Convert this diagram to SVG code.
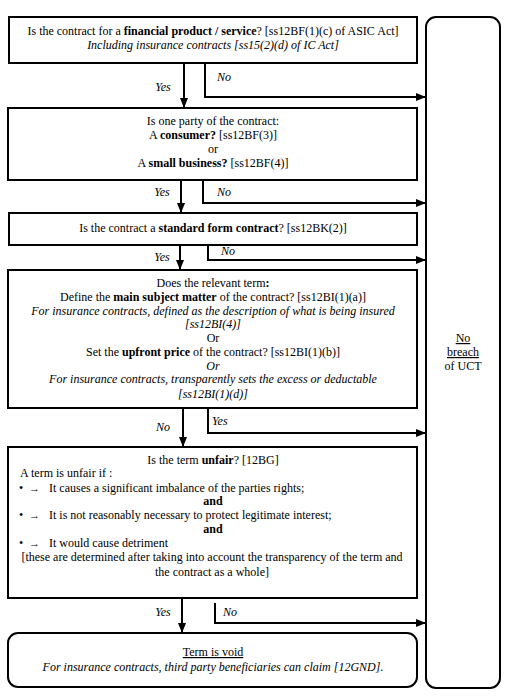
<svg xmlns="http://www.w3.org/2000/svg" width="509" height="698" viewBox="0 0 509 698">
<style>
text{font-family:"Liberation Serif","Times New Roman",serif;font-size:12px;fill:#000}
.c{text-anchor:middle}
.i{font-style:italic}
.b{font-weight:bold}
.box{fill:#fff;stroke:#000;stroke-width:2}
.ln{fill:none;stroke:#000;stroke-width:2}
.u{text-decoration:underline}
.ar{font-size:11px;font-weight:bold}
</style>
<defs>
<marker id="ah" markerWidth="10" markerHeight="8" refX="9" refY="4" orient="auto" markerUnits="userSpaceOnUse">
<path d="M0,0 L10,4 L0,8 Z" fill="#000"/>
</marker>
</defs>
<rect width="509" height="698" fill="#fff"/>
<g id="connectors">
<line class="ln" x1="184" y1="63" x2="184" y2="107" marker-end="url(#ah)"/>
<polyline class="ln" points="205,63 205,97 425,97" marker-end="url(#ah)"/>
<text x="163" y="91" class="c i">Yes</text>
<text x="217" y="81" class="i">No</text>
<line class="ln" x1="181" y1="180" x2="181" y2="212" marker-end="url(#ah)"/>
<polyline class="ln" points="203,180 203,203 425,203" marker-end="url(#ah)"/>
<text x="162" y="196" class="c i">Yes</text>
<text x="217" y="196" class="i">No</text>
<line class="ln" x1="180" y1="245" x2="180" y2="269" marker-end="url(#ah)"/>
<polyline class="ln" points="208,245 208,260 425,260" marker-end="url(#ah)"/>
<text x="162" y="261" class="c i">Yes</text>
<text x="221" y="255" class="i">No</text>
<line class="ln" x1="183" y1="408" x2="183" y2="446" marker-end="url(#ah)"/>
<polyline class="ln" points="208,408 208,433 425,433" marker-end="url(#ah)"/>
<text x="163" y="431" class="c i">No</text>
<text x="212" y="425" class="i">Yes</text>
<line class="ln" x1="182" y1="598" x2="182" y2="632" marker-end="url(#ah)"/>
<polyline class="ln" points="215,603 215,623 425,623" marker-end="url(#ah)"/>
<text x="163" y="616" class="c i">Yes</text>
<text x="223" y="616" class="i">No</text>
</g>
<g id="node-financial">
<rect class="box" x="9" y="17" width="408" height="46"/>
<text x="213" y="35" class="c">Is the contract for a <tspan class="b">financial product  / service</tspan>?  [ss12BF(1)(c) of ASIC Act]</text>
<text x="213" y="49" class="c i">Including insurance contracts  [ss15(2)(d) of IC Act]</text>
</g>
<g id="node-party">
<rect class="box" x="8" y="108" width="409" height="72"/>
<text x="213" y="125" class="c">Is one party of the contract:</text>
<text x="213" y="139" class="c">A <tspan class="b">consumer?</tspan> [ss12BF(3)]</text>
<text x="213" y="153" class="c">or</text>
<text x="213" y="167" class="c">A <tspan class="b">small business?</tspan> [ss12BF(4)]</text>
</g>
<g id="node-standard">
<rect class="box" x="9" y="213" width="408" height="32"/>
<text x="213" y="232" class="c">Is the contract a <tspan class="b">standard form contract</tspan>? [ss12BK(2)]</text>
</g>
<g id="node-term">
<rect class="box" x="8" y="270" width="409" height="138"/>
<text x="213" y="287" class="c">Does the relevant  term<tspan class="b">:</tspan></text>
<text x="213" y="301" class="c">Define the <tspan class="b">main subject matter</tspan> of the contract?  [ss12BI(1)(a)]</text>
<text x="213" y="315" class="c i">For insurance contracts, defined as the description of what is being insured</text>
<text x="213" y="328" class="c i">[ss12BI(4)]</text>
<text x="213" y="342" class="c">Or</text>
<text x="213" y="356" class="c">Set the <tspan class="b">upfront price</tspan> of the contract?  [ss12BI(1)(b)]</text>
<text x="213" y="370" class="c i">Or</text>
<text x="213" y="383" class="c i">For insurance contracts, transparently sets the excess or deductable</text>
<text x="213" y="398" class="c i">[ss12BI(1)(d)]</text>
</g>
<g id="node-unfair">
<rect class="box" x="8" y="447" width="409" height="151"/>
<text x="213" y="464" class="c">Is the term <tspan class="b">unfair</tspan>? [12BG]</text>
<text x="20" y="477">A term is unfair if :</text>
<text x="19" y="492">•</text><text x="29" y="492" class="ar">→</text>
<text x="49" y="492">It causes a significant imbalance  of the parties rights;</text>
<text x="213" y="505" class="c b">and</text>
<text x="19" y="519">•</text><text x="29" y="519" class="ar">→</text>
<text x="49" y="519">It is not reasonably necessary to protect  legitimate  interest;</text>
<text x="213" y="533" class="c b">and</text>
<text x="19" y="547">•</text><text x="29" y="547" class="ar">→</text>
<text x="49" y="547">It would cause detriment</text>
<text x="212" y="561" class="c">[these are determined  after taking  into account the transparency of the term and</text>
<text x="212" y="576" class="c">the contract as a whole]</text>
</g>
<g id="node-void">
<rect class="box" x="8" y="633" width="409" height="54" rx="10"/>
<text x="213" y="656" class="c u">Term is void</text>
<text x="213" y="671" class="c i">For insurance contracts, third party beneficiaries  can claim [12GND].</text>
</g>
<g id="node-nobreach">
<rect class="box" x="426" y="17" width="74" height="671" rx="10"/>
<text x="463" y="342" class="c u">No</text>
<text x="463" y="356" class="c u">breach</text>
<text x="463" y="370" class="c">of UCT</text>
</g>
</svg>
